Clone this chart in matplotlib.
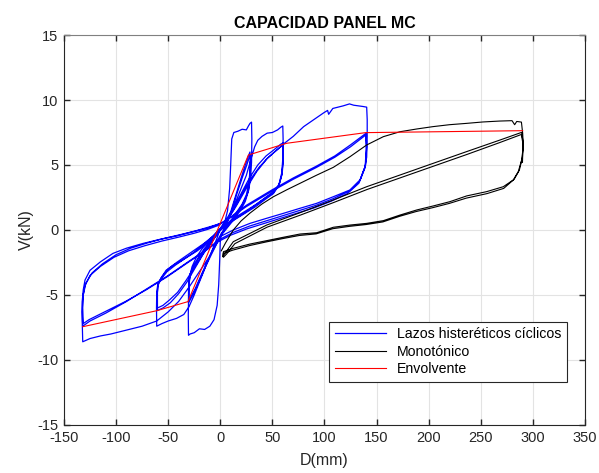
import numpy as np
import matplotlib.pyplot as plt

plt.rcParams['font.family'] = ['Liberation Sans', 'DejaVu Sans']
plt.rcParams['axes.unicode_minus'] = False

# ---- Lazos histeréticos cíclicos (D en mm, V en kN) ----
# ciclo +-30 mm, 1ra vuelta
c30a_d = [0, 4, 7, 9, 10, 11, 13, 17, 21, 25, 27, 28.5, 30, 30.3, 30, 29, 27, 23, 18, 12,
          6, 1, 0, -0.5, -1.5, -3, -6, -10, -15, -20, -25, -29, -30.5, -30.7, -30.3, -29.5,
          -27, -23, -18, -12, -6, 0, 5]
c30a_v = [0, 0.5, 1.5, 3.2, 5.0, 7.0, 7.5, 7.6, 7.75, 7.7, 8.0, 8.2, 8.3, 7.0, 5.2, 3.9, 3.0,
          2.2, 1.5, 0.8, 0.2, -0.3, -0.8, -2.2, -4.2, -5.8, -6.9, -7.4, -7.65, -7.6, -7.9, -8.0,
          -8.1, -6.5, -4.8, -3.6, -2.8, -2.1, -1.5, -0.9, -0.4, 0.1, 0.4]
# ciclo +-30 mm, 2da y 3ra vuelta
c30b_d = [5, 10, 15, 20, 24, 27, 28.5, 29, 28.5, 27, 24, 20, 14, 8, 2, -3, -8, -14, -20, -25,
          -29, -30.5, -30.5, -29, -26, -21, -15, -9, -3, 2, 6]
c30b_v = [0.4, 1.4, 2.7, 4.0, 5.0, 5.7, 6.0, 5.2, 4.0, 3.0, 2.2, 1.6, 0.9, 0.3, -0.3, -1.0,
          -1.8, -2.8, -3.9, -4.8, -5.4, -5.6, -4.5, -3.6, -2.9, -2.2, -1.5, -0.9, -0.3, 0.2, 0.5]
c30c_d = [6, 11, 16, 21, 25, 27.5, 29, 28.7, 27.5, 25, 21, 15, 9, 3, -2, -7, -13, -19, -24,
          -28, -30, -30.3, -29, -26, -21, -15, -9, -3, 2]
c30c_v = [0.5, 1.5, 2.8, 4.0, 4.9, 5.5, 5.8, 4.8, 3.6, 2.7, 2.0, 1.3, 0.6, 0.0, -0.7, -1.5,
          -2.5, -3.6, -4.5, -5.1, -5.4, -4.3, -3.4, -2.8, -2.1, -1.4, -0.8, -0.2, 0.3]

# ciclo +-60 mm
c60a_d = [2, 10, 18, 25, 30, 33, 36, 40, 45, 50, 55, 58, 60, 60.3, 60, 59, 56, 50, 44, 35,
          25, 15, 6, 0, -3, -8, -14, -20, -25, -30, -35, -42, -50, -56, -61, -61.2, -61, -60,
          -57, -52, -45, -38, -30, -22, -14, -6, 0, 4]
c60a_v = [0.3, 1.2, 2.8, 4.2, 5.6, 6.4, 6.9, 7.2, 7.45, 7.5, 7.7, 7.9, 8.0, 7.0, 5.5, 4.4,
          3.4, 2.8, 2.5, 2.0, 1.5, 1.0, 0.5, 0.1, -0.6, -1.6, -2.8, -4.0, -5.0, -5.9, -6.5,
          -6.8, -7.0, -7.2, -7.4, -6.0, -4.8, -4.2, -3.7, -3.1, -2.7, -2.4, -2.0, -1.6, -1.1,
          -0.5, 0.1, 0.6]
c60b_d = [4, 12, 20, 28, 36, 44, 52, 58, 60.5, 60.5, 59.5, 57, 52, 45, 35, 25, 15, 6, 0, -8,
          -16, -24, -32, -40, -48, -55, -60.5, -60.5, -60, -57, -51, -43, -34, -25, -16, -7,
          0, 5]
c60b_v = [0.6, 1.6, 2.8, 4.0, 5.0, 5.7, 6.2, 6.6, 6.7, 5.5, 4.4, 3.6, 3.0, 2.6, 2.0, 1.4,
          0.9, 0.4, 0.0, -0.9, -1.8, -2.9, -4.0, -4.9, -5.6, -6.0, -6.2, -5.0, -4.3, -3.8,
          -3.2, -2.7, -2.2, -1.7, -1.1, -0.5, 0.1, 0.6]
c60c_d = [5, 13, 21, 29, 37, 45, 52, 58, 60.3, 60.3, 59, 56, 51, 44, 34, 24, 14, 5, -1, -9,
          -17, -25, -33, -41, -49, -55, -60.3, -60.3, -59.5, -56, -50, -42, -33, -24, -15, -6,
          1, 8]
c60c_v = [0.6, 1.6, 2.8, 3.9, 4.8, 5.5, 6.0, 6.4, 6.5, 5.3, 4.2, 3.4, 2.8, 2.4, 1.8, 1.3,
          0.8, 0.3, -0.1, -1.0, -1.9, -2.9, -3.9, -4.8, -5.4, -5.8, -6.0, -4.8, -4.1, -3.6,
          -3.0, -2.5, -2.0, -1.5, -1.0, -0.4, 0.2, 0.8]

# ciclo +140 / -130 mm
c140a_d = [8, 15, 25, 35, 45, 55, 62, 70, 80, 90, 99, 103, 104, 108, 118, 124, 128, 137,
           140.5, 141, 141, 140.5, 138.9, 134.1, 124.5, 108.5, 92.5, 76.5, 60.5, 44.5, 28.5,
           12.5, 0, -10, -20, -30, -40, -50, -61, -75, -90, -105, -115, -125, -132, -132.5,
           -132.5, -131.5, -129.8, -125, -115, -103, -90, -74, -58, -42, -26, -13, -3.5, 3, 10]
c140a_v = [0.9, 1.8, 3.2, 4.5, 5.5, 6.2, 6.7, 7.2, 7.95, 8.5, 9.0, 9.2, 8.9, 9.35, 9.55, 9.7,
           9.6, 9.5, 9.45, 8.5, 7.2, 5.6, 4.87, 3.85, 3.08, 2.56, 2.05, 1.67, 1.28, 0.9, 0.51,
           0.0, -0.5, -2.0, -3.2, -4.4, -5.5, -6.3, -7.0, -7.4, -7.7, -8.0, -8.15, -8.35, -8.6,
           -7.0, -5.5, -4.6, -3.85, -3.1, -2.45, -1.8, -1.4, -1.03, -0.72, -0.46, -0.13, 0.13,
           0.38, 0.64, 1.0]
c140b_d = [10, 25, 50, 70, 92, 110, 125, 140, 140.5, 139.5, 134, 124, 108, 92, 76, 60, 44,
           28, 12, 0, -15, -30, -50, -70, -90, -110, -125, -132, -132.5, -132, -130, -125,
           -115, -102, -88, -72, -56, -40, -25, -12, -2, 8]
c140b_v = [1.0, 1.9, 3.1, 4.0, 4.9, 5.7, 6.55, 7.45, 6.4, 5.0, 3.8, 3.0, 2.4, 1.9, 1.5, 1.1,
           0.7, 0.3, -0.2, -0.7, -1.6, -2.4, -3.5, -4.5, -5.5, -6.4, -7.0, -7.4, -6.3, -5.2,
           -4.3, -3.5, -2.8, -2.1, -1.6, -1.2, -0.85, -0.55, -0.25, 0.05, 0.35, 0.85]
c140c_d = [8, 25, 50, 70, 92, 110, 125, 139.5, 140, 139, 133, 122, 106, 90, 74, 58, 42, 26,
           10, -2, -16, -31, -51, -71, -91, -111, -126, -131.5, -132, -131.5, -129, -123,
           -113, -100, -86, -70, -54, -38, -23, -10, 0]
c140c_v = [0.85, 1.8, 3.0, 3.9, 4.8, 5.6, 6.4, 7.3, 6.2, 4.8, 3.6, 2.8, 2.2, 1.7, 1.3, 0.9,
           0.5, 0.1, -0.4, -0.9, -1.7, -2.5, -3.6, -4.6, -5.5, -6.3, -6.9, -7.2, -6.0, -5.0,
           -4.1, -3.3, -2.6, -1.9, -1.4, -1.0, -0.65, -0.35, -0.05, 0.25, 0.5]

# ---- Ensayo monotónico ----
mono_d = [1, 5, 12.5, 20, 28.5, 40, 51, 64, 76.5, 92, 108.5, 124.5, 140.5, 156.5, 172.5,
          188.5, 204, 220, 236, 252, 268, 280, 282.5, 284.5, 289,
          290.2, 290.8, 289.2, 286, 281.2, 271.6, 255.6, 236.4, 220.4, 204.4, 188.5, 172.5,
          156.5, 140.5, 124.5, 108.5, 92.5, 76.5, 60.5, 44.5, 28.5, 12.5, 3, 2.3,
          4.5, 12.5, 44.5, 76.5, 108.5, 140.5, 172.5, 204.4, 236.4, 268.4, 289.2,
          290.5, 290, 287, 282, 272, 256, 236, 220, 204, 188, 172, 156, 140, 124, 108, 92, 76,
          60, 44, 28, 12, 3, 3,
          6, 14, 45, 77, 109, 141, 173, 205, 237, 268, 289, 290.5, 290]
mono_v = [-1.6, -1.0, 0.0, 0.7, 1.3, 2.0, 2.56, 3.1, 3.59, 4.2, 4.82, 5.64, 6.54, 7.18, 7.56,
          7.77, 7.95, 8.10, 8.20, 8.31, 8.38, 8.41, 8.1, 8.35, 8.3,
          7.44, 6.41, 5.38, 4.49, 3.85, 3.33, 2.95, 2.62, 2.18, 1.85, 1.54, 1.15, 0.72, 0.51,
          0.38, 0.21, -0.21, -0.31, -0.56, -0.82, -1.08, -1.41, -1.67, -2.05,
          -1.8, -0.9, 0.38, 1.33, 2.31, 3.33, 4.23, 5.13, 6.03, 6.92, 7.51,
          6.8, 5.6, 4.6, 3.9, 3.2, 2.8, 2.45, 2.05, 1.72, 1.42, 1.05, 0.62, 0.42, 0.28, 0.1,
          -0.3, -0.42, -0.66, -0.92, -1.2, -1.55, -1.8, -2.1,
          -1.85, -1.05, 0.22, 1.15, 2.12, 3.12, 4.02, 4.92, 5.82, 6.72, 7.35, 6.6, 5.2]

# ---- Envolvente ----
env_d = [-132, -61, -31, 27, 63.7, 139.5, 290.2]
env_v = [-7.44, -6.21, -5.51, 5.77, 6.67, 7.49, 7.64]

ciclos_d = [c30a_d, c30b_d, c30c_d, c60a_d, c60b_d, c60c_d, c140a_d, c140b_d, c140c_d]
ciclos_v = [c30a_v, c30b_v, c30c_v, c60a_v, c60b_v, c60c_v, c140a_v, c140b_v, c140c_v]
lazos_d = np.concatenate(ciclos_d)
lazos_v = np.concatenate(ciclos_v)

fig = plt.figure(figsize=(5.99, 4.73), dpi=100)
ax = fig.add_axes([0.1068, 0.1015, 0.8698, 0.8245])

ax.plot(lazos_d, lazos_v, color='#0000ff', lw=0.9, label='Lazos histeréticos cíclicos')
ax.plot(mono_d, mono_v, color='black', lw=0.8, label='Monotónico')
ax.plot(env_d, env_v, color='#ff0000', lw=0.8, label='Envolvente')

ax.set_xlim(-150, 350)
ax.set_ylim(-15, 15)
ax.set_xticks(np.arange(-150, 351, 50))
ax.set_yticks(np.arange(-15, 16, 5))
ax.grid(True, color='#e3e3e3', lw=0.8)
ax.set_axisbelow(True)
ax.tick_params(direction='in', length=4, width=1, top=True, right=True,
               labelsize=10.5, colors='#262626', labelcolor='#262626', pad=4)
for s in ['left', 'bottom', 'right']:
    ax.spines[s].set_color('#262626')
ax.spines['top'].set_color('#808080')

ax.set_title('CAPACIDAD PANEL MC', fontsize=11.5, fontweight='bold', pad=5)
ax.set_xlabel('D(mm)', fontsize=11.5, color='#262626', labelpad=6)
ax.set_ylabel('V(kN)', fontsize=11.5, color='#262626', labelpad=2)

leg = ax.legend(loc='lower right', bbox_to_anchor=(0.966, 0.11), borderaxespad=0,
                fontsize=10.2, handlelength=3.6, fancybox=False, framealpha=1,
                edgecolor='#262626', borderpad=0.4, labelspacing=0.25)
leg.get_frame().set_linewidth(0.8)

fig.savefig('out.png', dpi=100)
